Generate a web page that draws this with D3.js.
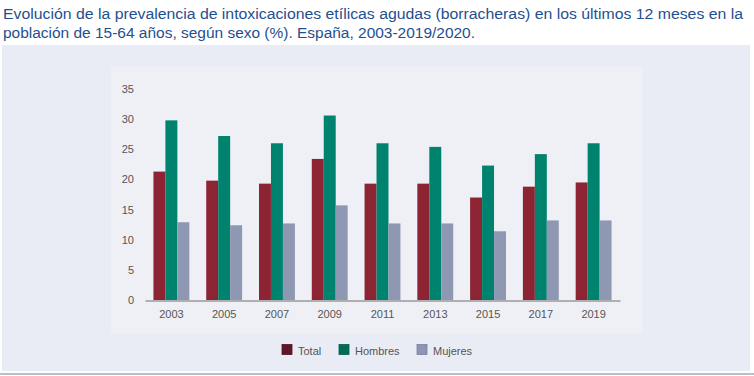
<!DOCTYPE html>
<html>
<head>
<meta charset="utf-8">
<script src="https://cdn.jsdelivr.net/npm/d3@7"></script>
<style>
  body { margin: 0; background: #fff; }
  svg { display: block; font-family: "Liberation Sans", Arial, sans-serif; }
</style>
</head>
<body>
<div class="chart"></div>
<script>
const years = ['2003', '2005', '2007', '2009', '2011', '2013', '2015', '2017', '2019'];
const total   = [21.3, 19.8, 19.3, 23.4, 19.3, 19.3, 17.0, 18.8, 19.5];
const hombres = [29.8, 27.2, 26.0, 30.6, 26.0, 25.4, 22.3, 24.2, 26.0];
const mujeres = [12.9, 12.4, 12.7, 15.7, 12.7, 12.7, 11.4, 13.2, 13.2];
const seriesNames = ['Total', 'Hombres', 'Mujeres'];
const yTicks = [0, 5, 10, 15, 20, 25, 30, 35];
const titleLines = [
  'Evolución de la prevalencia de intoxicaciones etílicas agudas (borracheras) en los últimos 12 meses en la',
  'población de 15-64 años, según sexo (%). España, 2003-2019/2020.'
];

const width = 754, height = 376;
const colors = ['#8c2434', '#00836e', '#8f98b3'];
const legendColors = ['#5e1729', '#006b58', '#8c95b3'];

const svg = d3.select('.chart')
  .append('svg')
    .attr('width', width)
    .attr('height', height);

// title, squeezed to the widths seen in the picture
const titleWidths = [740, 472];
titleLines.forEach((t, i) => {
  svg.append('text')
    .attr('x', 3)
    .attr('y', 19 + i * 19)
    .attr('font-size', '15.5px')
    .attr('fill', '#1f4f8f')
    .attr('textLength', titleWidths[i])
    .attr('lengthAdjust', 'spacingAndGlyphs')
    .text(t);
});

// panels
svg.append('rect')
  .attr('x', 2).attr('y', 45).attr('width', 748).attr('height', 326)
  .attr('fill', '#e9ecf4');
svg.append('rect')
  .attr('x', 111).attr('y', 67).attr('width', 531).attr('height', 266)
  .attr('fill', '#eff0f5');
svg.append('line')
  .attr('x1', 0).attr('x2', width).attr('y1', 374).attr('y2', 374)
  .attr('stroke', '#b9bdcd').attr('stroke-width', 2);

const x = d3.scaleBand()
  .domain(years)
  .range([145, 620])
  .paddingInner(0.32)
  .paddingOuter(0.16);

const xs = d3.scaleBand()
  .domain(seriesNames)
  .range([0, x.bandwidth()]);

const y = d3.scaleLinear()
  .domain([0, 35])
  .range([300, 89]);

const data = [total, hombres, mujeres];

seriesNames.forEach((name, si) => {
  svg.append('g')
    .selectAll('rect')
    .data(years.map((yr, i) => ({year: yr, value: data[si][i]})))
    .join('rect')
      .attr('x', d => x(d.year) + xs(name))
      .attr('y', d => y(d.value))
      .attr('width', xs.bandwidth())
      .attr('height', d => y(0) - y(d.value))
      .attr('fill', colors[si]);
});

const yAxis = svg.append('g')
  .attr('transform', 'translate(145,0)')
  .call(d3.axisLeft(y).tickValues(yTicks).tickSize(0).tickPadding(11));
yAxis.select('.domain').remove();
yAxis.selectAll('text')
  .attr('font-size', '11px')
  .attr('font-family', '"Liberation Sans", Arial, sans-serif')
  .attr('fill', '#555');

const xAxis = svg.append('g')
  .attr('transform', 'translate(0,300.5)')
  .call(d3.axisBottom(x).tickSize(0).tickPadding(10).tickSizeOuter(0));
xAxis.select('.domain')
  .attr('stroke', '#9a9a9a')
  .attr('stroke-width', 1.5);
xAxis.selectAll('text')
  .attr('font-size', '11px')
  .attr('font-family', '"Liberation Sans", Arial, sans-serif')
  .attr('fill', '#555');

// legend
const legendX = [282, 339, 417];
const legend = svg.append('g');
seriesNames.forEach((name, i) => {
  legend.append('rect')
    .attr('x', legendX[i]).attr('y', 344.5)
    .attr('width', 10).attr('height', 10)
    .attr('fill', legendColors[i])
    .attr('stroke', d3.color(legendColors[i]).darker(0.4))
    .attr('stroke-width', 0.8);
  legend.append('text')
    .attr('x', legendX[i] + 16).attr('y', 355)
    .attr('font-size', '11px')
    .attr('fill', '#555')
    .text(name);
});
</script>
</body>
</html>
